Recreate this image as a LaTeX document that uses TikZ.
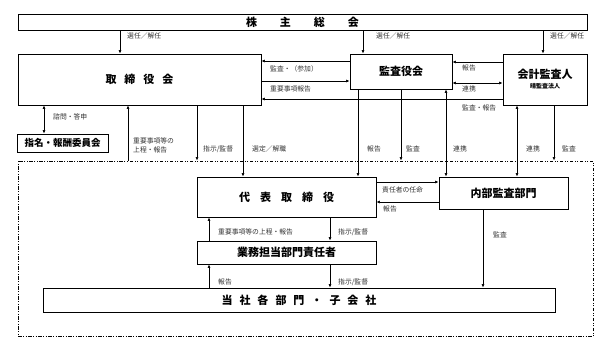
\documentclass[tikz,border=0pt]{standalone}
\usepackage{fontspec}
\setmainfont{Noto Sans CJK JP}
\usetikzlibrary{arrows.meta,positioning}

\tikzset{
  box/.style={draw, line width=0.9pt, inner sep=0pt, font=\bfseries\fontsize{11}{11}\selectfont},
  lbl/.style={anchor=west, inner sep=0pt, font=\fontsize{6.8}{8.5}\selectfont, text=black!80},
  arr/.style={-{Latex[length=3.5pt,width=3pt]}, line width=0.6pt},
  darr/.style={{Latex[length=3.5pt,width=3pt]}-{Latex[length=3.5pt,width=3pt]}, line width=0.6pt},
  group/.style={draw, line width=1pt, dash pattern=on 3.5pt off 1.5pt on 1pt off 1.5pt on 1pt off 1.5pt}
}

\begin{document}
\begin{tikzpicture}[x=1pt, y=-1pt]
  \useasboundingbox[fill=white] (0,0) rectangle (609,353);

  % upper organs
  \node[box, minimum width=569pt, minimum height=16pt] (soukai) at (302.5,22) {株\hspace{23pt}主\hspace{23pt}総\hspace{23pt}会};
  \node[box, minimum width=243pt, minimum height=51pt] (torishimari) at (139.5,79.5) {取\hspace{8pt}締\hspace{8pt}役\hspace{8pt}会};
  \node[box, minimum width=102pt, minimum height=35pt] (kansayaku) at (401,71.5) {監査役会};
  \node[box, minimum width=84pt, minimum height=51pt, align=center] (kaikei) at (545,79.5) {会計監査人\\[-1pt]{\fontsize{6}{7}\selectfont 晴監査法人}};
  \node[box, minimum width=91pt, minimum height=18pt, font=\bfseries\fontsize{9.5}{10}\selectfont] (shimei) at (62.5,143) {指名・報酬委員会};

  % company
  \node[group, minimum width=575pt, minimum height=175pt] (kaisha) at (305.5,248.5) {};
  \node[box, minimum width=179pt, minimum height=40pt] (daihyo) at (286.5,197) {代\hspace{10pt}表\hspace{10pt}取\hspace{10pt}締\hspace{10pt}役};
  \node[box, minimum width=129pt, minimum height=32pt] (naibu) at (503.5,193) {内部監査部門};
  \node[box, minimum width=179pt, minimum height=23pt] (gyomu) at (286.5,252.5) {業務担当部門責任者};
  \node[box, minimum width=512pt, minimum height=24pt] (kakubu) at (299,300) {当\hspace{7pt}社\hspace{7pt}各\hspace{7pt}部\hspace{7pt}門\hspace{7pt}・\hspace{7pt}子\hspace{7pt}会\hspace{7pt}社};

  % shareholders meeting
  \draw[arr] (soukai.south -| 120,0) -- (torishimari.north -| 120,0);
  \draw[arr] (soukai.south -| 363,0) -- (kansayaku.north -| 363,0);
  \draw[arr] (soukai.south -| 543,0) -- (kaikei.north -| 543,0);
  \node[lbl] (lsenA) at (127,36) {選任／解任};
  \node[lbl] (lsenB) at (376,36) {選任／解任};
  \node[lbl] (lsenC) at (550,36) {選任／解任};

  % board and auditors
  \draw[arr] (kansayaku.west |- 0,61) -- (torishimari.east |- 0,61);
  \draw[arr] (torishimari.east |- 0,81) -- (kansayaku.west |- 0,81);
  \draw[arr] (kaikei.west |- 0,99) -- (torishimari.east |- 0,99);
  \draw[arr] (kaikei.west |- 0,62) -- (kansayaku.east |- 0,62);
  \draw[darr] (kansayaku.east |- 0,83) -- (kaikei.west |- 0,83);
  \node[lbl] (lkansaA) at (270,69) {監査・（参加）};
  \node[lbl] (ljuyoA) at (270,89) {重要事項報告};
  \node[lbl] (lhokokuA) at (462,68) {報告};
  \node[lbl] (lrenA) at (462,89) {連携};
  \node[lbl] (lkansaB) at (462,108) {監査・報告};

  % board and committee
  \draw[darr] (torishimari.south -| 44,0) -- (shimei.north -| 44,0);
  \node[lbl] (lshimon) at (53,117) {諮問・答申};

  % into the company
  \draw[arr] (kaisha.north -| 128,0) -- (torishimari.south -| 128,0);
  \draw[arr] (torishimari.south -| 197,0) -- (kaisha.north -| 197,0);
  \draw[arr] (torishimari.south -| 243,0) -- (daihyo.north -| 243,0);
  \draw[arr] (kansayaku.south -| 358,0) -- (daihyo.north -| 358,0);
  \draw[arr] (kansayaku.south -| 401,0) -- (kaisha.north -| 401,0);
  \draw[darr] (kansayaku.south -| 446,0) -- (naibu.north -| 446,0);
  \draw[darr] (kaikei.south -| 517,0) -- (naibu.north -| 517,0);
  \draw[arr] (kaikei.south -| 554,0) -- (kaisha.north -| 554,0);
  \node[lbl, align=left] (ljoteiA) at (133,145.5) {重要事項等の\\上程・報告};
  \node[lbl] (lshijiA) at (203,149) {指示/監督};
  \node[lbl] (lsentei) at (252,149) {選定／解職};
  \node[lbl] (lhokokuB) at (367,149) {報告};
  \node[lbl] (lkansaC) at (406,149) {監査};
  \node[lbl] (lrenB) at (453,149) {連携};
  \node[lbl] (lrenC) at (526,149) {連携};
  \node[lbl] (lkansaD) at (562,149) {監査};

  % inside the company
  \draw[arr] (daihyo.east |- 0,182) -- (naibu.west |- 0,182);
  \draw[arr] (naibu.west |- 0,202) -- (daihyo.east |- 0,202);
  \draw[arr] (naibu.south -| 483,0) -- (kakubu.north -| 483,0);
  \draw[arr] (gyomu.north -| 209,0) -- (daihyo.south -| 209,0);
  \draw[arr] (daihyo.south -| 330,0) -- (gyomu.north -| 330,0);
  \draw[arr] (kakubu.north -| 209,0) -- (gyomu.south -| 209,0);
  \draw[arr] (gyomu.south -| 330,0) -- (kakubu.north -| 330,0);
  \node[lbl] (lnimmei) at (382,190) {責任者の任命};
  \node[lbl] (lhokokuC) at (383,209) {報告};
  \node[lbl] (lkansaE) at (493,235) {監査};
  \node[lbl] (ljoteiB) at (218,232) {重要事項等の上程・報告};
  \node[lbl] (lshijiB) at (338,232) {指示/監督};
  \node[lbl] (lhokokuD) at (218,282) {報告};
  \node[lbl] (lshijiC) at (338,282) {指示/監督};
\end{tikzpicture}
\end{document}
